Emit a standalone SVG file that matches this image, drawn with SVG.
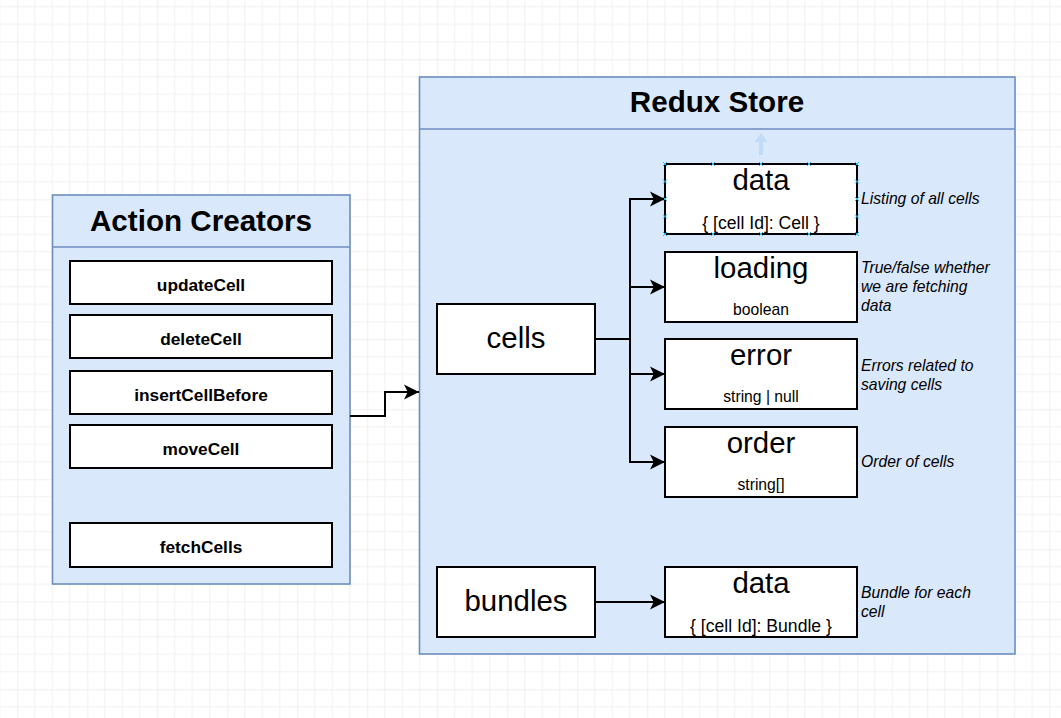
<svg xmlns="http://www.w3.org/2000/svg" width="1061" height="718" viewBox="0 0 1061 718">
<defs>
<pattern id="grid" patternUnits="userSpaceOnUse" x="17.3" y="-10.7" width="70" height="70">
<path d="M17.5,0V70M35,0V70M52.5,0V70M0,17.5H70M0,35H70M0,52.5H70" stroke="#f1f1f1" stroke-width="1" fill="none"/>
<path d="M0,0V70M0,0H70" stroke="#e2e2e2" stroke-width="1" fill="none"/>
</pattern>
<marker id="arrow" markerUnits="userSpaceOnUse" viewBox="-16 -8 17 16" refX="0" refY="0" markerWidth="17" markerHeight="16" orient="auto">
<path d="M0,0 L-15,-7.5 L-11.25,0 L-15,7.5 Z" fill="#000"/>
</marker>
</defs>
<style>
.container{fill:#dae8fc;stroke:#6c8ebf;stroke-width:1.6}
.hdr{stroke:#6c8ebf;stroke-width:1.6;fill:none}
.box{fill:#fff;stroke:#000;stroke-width:2}
.title{font-family:"Liberation Sans",Arial,sans-serif;font-weight:bold;font-size:29.6px;text-anchor:middle;fill:#000}
.act{font-family:"Liberation Sans",Arial,sans-serif;font-weight:bold;font-size:17.3px;text-anchor:middle;fill:#000}
.big{font-family:"Liberation Sans",Arial,sans-serif;font-size:29.4px;text-anchor:middle;fill:#000}
.sub{font-family:"Liberation Sans",Arial,sans-serif;font-size:15.7px;text-anchor:middle;fill:#000}
.sub2{font-family:"Liberation Sans",Arial,sans-serif;font-size:17.6px;text-anchor:middle;fill:#000}
.note{font-family:"Liberation Sans",Arial,sans-serif;font-style:italic;font-size:15.7px;fill:#000}
.edge{fill:none;stroke:#000;stroke-width:2}
.handle{fill:none;stroke:#29b6f2;stroke-width:1}
</style>
<rect x="0" y="0" width="1061" height="718" fill="#fff"/>
<rect x="0" y="0" width="1061" height="718" fill="url(#grid)"/>

<g id="action-creators">
<rect class="container" x="52.5" y="195" width="297.5" height="389"/>
<line class="hdr" x1="52.5" y1="247" x2="350" y2="247"/>
<text class="title" x="201" y="231">Action Creators</text>
</g>
<g id="updateCell"><rect class="box" x="70" y="261" width="262" height="43"/><text class="act" x="201" y="291">updateCell</text></g>
<g id="deleteCell"><rect class="box" x="70" y="315" width="262" height="43"/><text class="act" x="201" y="345">deleteCell</text></g>
<g id="insertCellBefore"><rect class="box" x="70" y="371" width="262" height="43"/><text class="act" x="201" y="401">insertCellBefore</text></g>
<g id="moveCell"><rect class="box" x="70" y="425" width="262" height="43"/><text class="act" x="201" y="455">moveCell</text></g>
<g id="fetchCells"><rect class="box" x="70" y="523" width="262" height="44"/><text class="act" x="201" y="553">fetchCells</text></g>

<g id="redux-store">
<rect class="container" x="419.5" y="77" width="595.5" height="577"/>
<line class="hdr" x1="419.5" y1="129" x2="1015" y2="129"/>
<text class="title" x="717" y="112">Redux Store</text>
</g>

<g id="cells"><rect class="box" x="437" y="304" width="158" height="70"/><text class="big" x="516" y="348">cells</text></g>
<g id="bundles"><rect class="box" x="437" y="567" width="158" height="70"/><text class="big" x="516" y="611">bundles</text></g>

<g id="data">
<rect class="box" x="665" y="164" width="192" height="70"/>
<text class="big" x="761" y="190">data</text>
<text class="sub2" x="761" y="229">{ [cell Id]: Cell }</text>
</g>
<g id="loading">
<rect class="box" x="665" y="252" width="192" height="70"/>
<text class="big" x="761" y="278">loading</text>
<text class="sub" x="761" y="315">boolean</text>
</g>
<g id="error">
<rect class="box" x="665" y="339" width="192" height="70"/>
<text class="big" x="761" y="365">error</text>
<text class="sub" x="761" y="402">string | null</text>
</g>
<g id="order">
<rect class="box" x="665" y="427" width="192" height="70"/>
<text class="big" x="761" y="453">order</text>
<text class="sub" x="761" y="490">string[]</text>
</g>
<g id="bundle-data">
<rect class="box" x="665" y="567" width="192" height="70"/>
<text class="big" x="761" y="593">data</text>
<text class="sub2" x="761" y="632">{ [cell Id]: Bundle }</text>
</g>

<g id="notes">
<text class="note" x="861" y="204">Listing of all cells</text>
<text class="note" x="861" y="273">True/false whether</text>
<text class="note" x="861" y="292">we are fetching</text>
<text class="note" x="861" y="311">data</text>
<text class="note" x="861" y="371">Errors related to</text>
<text class="note" x="861" y="390">saving cells</text>
<text class="note" x="861" y="467">Order of cells</text>
<text class="note" x="861" y="598">Bundle for each</text>
<text class="note" x="861" y="617">cell</text>
</g>

<g id="connectors">
<path class="edge" d="M350,416 H385 V392 H419" marker-end="url(#arrow)"/>
<path class="edge" d="M595,339 H630 V199 H665" marker-end="url(#arrow)"/>
<path class="edge" d="M595,339 H630 V287 H665" marker-end="url(#arrow)"/>
<path class="edge" d="M595,339 H630 V374 H665" marker-end="url(#arrow)"/>
<path class="edge" d="M595,339 H630 V462 H665" marker-end="url(#arrow)"/>
<path class="edge" d="M595,602 H665" marker-end="url(#arrow)"/>
</g>

<g id="selection">
<path d="M761,133 L767.5,142 L763,142 L763,155 L759,155 L759,142 L754.5,142 Z" fill="#c0dbf8"/>
<path class="handle" d="M663,162l4,4m0-4l-4,4M711,162l4,4m0-4l-4,4M759,162l4,4m0-4l-4,4M807,162l4,4m0-4l-4,4M855,162l4,4m0-4l-4,4M663,232l4,4m0-4l-4,4M711,232l4,4m0-4l-4,4M759,232l4,4m0-4l-4,4M807,232l4,4m0-4l-4,4M855,232l4,4m0-4l-4,4M663,179.5l4,4m0-4l-4,4M663,197l4,4m0-4l-4,4M663,214.5l4,4m0-4l-4,4M855,179.5l4,4m0-4l-4,4M855,197l4,4m0-4l-4,4M855,214.5l4,4m0-4l-4,4"/>
</g>
</svg>
